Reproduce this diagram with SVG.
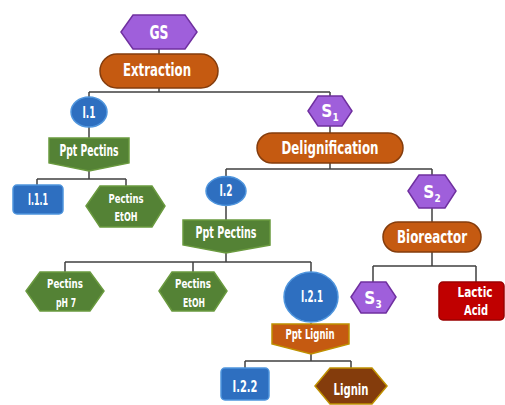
<svg xmlns="http://www.w3.org/2000/svg" width="505" height="405" viewBox="0 0 505 405">
<style>
.t{font-family:"DejaVu Sans Condensed","Liberation Sans Narrow","Liberation Sans",sans-serif;font-weight:bold;fill:#fff;text-anchor:middle}
.pur{fill:#9f5fdb;stroke:#7030a0;stroke-width:1.5}
.org{fill:#c55a11;stroke:#843c0c;stroke-width:1.5}
.grn{fill:#548235;stroke:#6a9a3f;stroke-width:1.5}
.blu{fill:#2e6fc0;stroke:#4f95dd;stroke-width:1.5}
.red{fill:#c00000;stroke:#9a0000;stroke-width:1.5}
.brn{fill:#843c0c;stroke:#bf9000;stroke-width:1.5}
.org2{fill:#c55a11;stroke:#bf9000;stroke-width:1.5}
.c{fill:none;stroke:#404040;stroke-width:1.5}
.sub{font-size:10px}
</style>
<rect width="505" height="405" fill="#fff"/>
<g id="connectors">
<path class="c" d="M159,49V54"/>
<path class="c" d="M159,88V92M89,92H330M89,92V97M330,92V96"/>
<path class="c" d="M89,127V138"/>
<path class="c" d="M89,171V179M37,179H126M37,179V185M126,179V186"/>
<path class="c" d="M330,126V133"/>
<path class="c" d="M330,163V169M226,169H432M226,169V177M432,169V175"/>
<path class="c" d="M226,205V220"/>
<path class="c" d="M432,208V222"/>
<path class="c" d="M226,253V262M65,262H311M65,262V272M193,262V272M311,262V272"/>
<path class="c" d="M432,252V266M373,266H476M373,266V282M476,266V282"/>
<path class="c" d="M311,323V324"/>
<path class="c" d="M311,354V361M245,361H351M245,361V368M351,361V368"/>
</g>
<g id="GS">
<polygon class="pur" points="121,32 133,15 185,15 197,32 185,49 133,49"/>
<text class="t" x="159" y="39" font-size="19" textLength="19" lengthAdjust="spacingAndGlyphs">GS</text>
</g>
<g id="Extraction">
<rect class="org" x="100" y="54" width="118" height="34" rx="17"/>
<text class="t" x="157" y="76" font-size="18" textLength="68" lengthAdjust="spacingAndGlyphs">Extraction</text>
</g>
<g id="I1">
<ellipse class="blu" cx="89" cy="112" rx="18" ry="15"/>
<text class="t" x="89" y="118" font-size="16" textLength="13" lengthAdjust="spacingAndGlyphs">I.1</text>
</g>
<g id="PptPectins1">
<polygon class="grn" points="49,138 129,138 129,163 89,171 49,163"/>
<text class="t" x="89" y="156" font-size="15" textLength="59" lengthAdjust="spacingAndGlyphs">Ppt Pectins</text>
</g>
<g id="I11">
<rect class="blu" x="13" y="185" width="50" height="29" rx="4"/>
<text class="t" x="38" y="205" font-size="16" textLength="20" lengthAdjust="spacingAndGlyphs">I.1.1</text>
</g>
<g id="PectinsEtOH1">
<polygon class="grn" points="86,206 100,186 152,186 165,206 152,227 100,227"/>
<text class="t" x="126" y="203" font-size="13" textLength="35" lengthAdjust="spacingAndGlyphs">Pectins</text>
<text class="t" x="126" y="221" font-size="13" textLength="23" lengthAdjust="spacingAndGlyphs">EtOH</text>
</g>
<g id="S1">
<polygon class="pur" points="308,111 318,96 342,96 352,111 342,126 318,126"/>
<text class="t" x="330" y="117" font-size="17">S<tspan class="sub" dy="4">1</tspan></text>
</g>
<g id="Delignification">
<rect class="org" x="257" y="133" width="146" height="30" rx="15"/>
<text class="t" x="330" y="154" font-size="17" textLength="97" lengthAdjust="spacingAndGlyphs">Delignification</text>
</g>
<g id="I2">
<ellipse class="blu" cx="226" cy="191" rx="20" ry="14.5"/>
<text class="t" x="226" y="196" font-size="16" textLength="13" lengthAdjust="spacingAndGlyphs">I.2</text>
</g>
<g id="S2">
<polygon class="pur" points="408,191 419,175 445,175 456,191 445,208 419,208"/>
<text class="t" x="432" y="198" font-size="17">S<tspan class="sub" dy="4">2</tspan></text>
</g>
<g id="PptPectins2">
<polygon class="grn" points="183,220 270,220 270,245 226,253 183,245"/>
<text class="t" x="226" y="238" font-size="15" textLength="61" lengthAdjust="spacingAndGlyphs">Ppt Pectins</text>
</g>
<g id="Bioreactor">
<rect class="org" x="383" y="222" width="98" height="30" rx="15"/>
<text class="t" x="432" y="243" font-size="17" textLength="70" lengthAdjust="spacingAndGlyphs">Bioreactor</text>
</g>
<g id="PectinspH7">
<polygon class="grn" points="26,291 40,272 90,272 104,291 90,311 40,311"/>
<text class="t" x="65" y="288" font-size="13" textLength="36" lengthAdjust="spacingAndGlyphs">Pectins</text>
<text class="t" x="66" y="307" font-size="13" textLength="20" lengthAdjust="spacingAndGlyphs">pH 7</text>
</g>
<g id="PectinsEtOH2">
<polygon class="grn" points="159,291 172,272 214,272 227,291 214,311 172,311"/>
<text class="t" x="193" y="288" font-size="13" textLength="36" lengthAdjust="spacingAndGlyphs">Pectins</text>
<text class="t" x="194" y="307" font-size="13" textLength="22" lengthAdjust="spacingAndGlyphs">EtOH</text>
</g>
<g id="I21">
<ellipse class="blu" cx="311" cy="297" rx="27" ry="25"/>
<text class="t" x="312" y="302" font-size="16" textLength="22" lengthAdjust="spacingAndGlyphs">I.2.1</text>
</g>
<g id="S3">
<polygon class="pur" points="351,297 361,282 386,282 396,297 386,313 361,313"/>
<text class="t" x="373" y="304" font-size="17">S<tspan class="sub" dy="4">3</tspan></text>
</g>
<g id="LacticAcid">
<rect class="red" x="439" y="282" width="65" height="38" rx="4"/>
<text class="t" x="475" y="297" font-size="14" textLength="35" lengthAdjust="spacingAndGlyphs">Lactic</text>
<text class="t" x="476" y="315" font-size="14" textLength="24" lengthAdjust="spacingAndGlyphs">Acid</text>
</g>
<g id="PptLignin">
<polygon class="org2" points="272,324 349,324 349,344 311,354 272,344"/>
<text class="t" x="310" y="339" font-size="14" textLength="49" lengthAdjust="spacingAndGlyphs">Ppt Lignin</text>
</g>
<g id="I22">
<rect class="blu" x="221" y="368" width="48" height="32" rx="4"/>
<text class="t" x="245" y="392" font-size="16" textLength="25" lengthAdjust="spacingAndGlyphs">I.2.2</text>
</g>
<g id="Lignin">
<polygon class="brn" points="315,386 330,368 372,368 387,386 372,404 330,404"/>
<text class="t" x="351" y="395" font-size="16" textLength="35" lengthAdjust="spacingAndGlyphs">Lignin</text>
</g>
</svg>
